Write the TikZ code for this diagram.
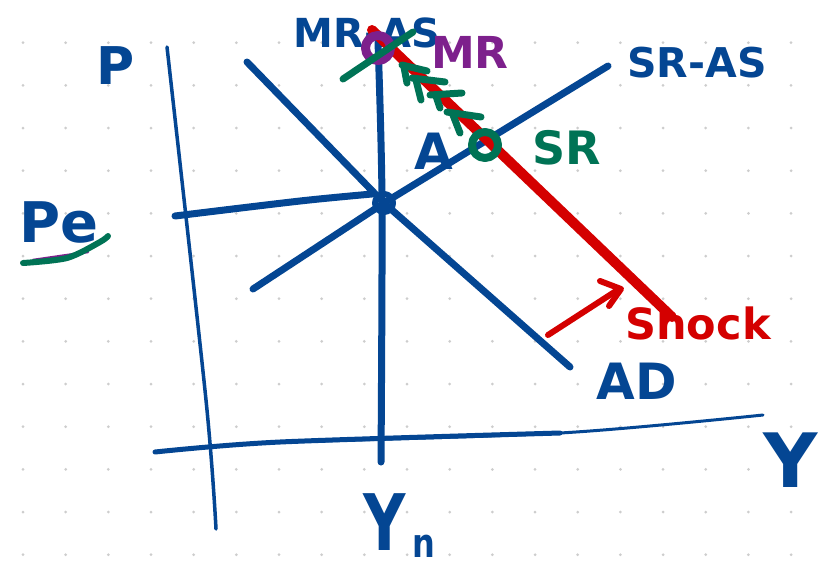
\documentclass[tikz,border=0pt]{standalone}
\usepackage{fontspec}
\setmainfont{DejaVu Sans}
\definecolor{inkblue}{RGB}{4,70,147}
\definecolor{inkred}{RGB}{212,0,0}
\definecolor{inkgreen}{RGB}{0,115,85}
\definecolor{inkpurple}{RGB}{125,32,140}
\definecolor{dotgray}{RGB}{205,205,205}
\tikzset{
  ink/.style={line cap=round,line join=round},
  blueline/.style={ink,draw=inkblue,line width=7pt},
  thinaxis/.style={ink,draw=inkblue,line width=3.5pt},
  redline/.style={ink,draw=inkred,line width=10pt},
  greenmark/.style={ink,draw=inkgreen,line width=7pt},
  lbl/.style={inner sep=0pt,font=\bfseries},
}
\newcommand{\fs}[1]{\fontsize{#1}{#1}\selectfont}
\begin{document}
\begin{tikzpicture}[x=1pt,y=-1pt]
\useasboundingbox (0,0) rectangle (818,568);
\fill[white] (0,0) rectangle (818,568);
% dot grid
\foreach \i in {0,...,18}{
  \foreach \j in {1,...,13}{
    \fill[dotgray] (23+42.67*\i,42.67*\j) circle (1.5);
  }
}
% coordinates
\coordinate (pTop) at (167,47);
\coordinate (pMid) at (206,400);
\coordinate (pBot) at (216,529);
\coordinate (yL) at (155,452);
\coordinate (yM1) at (280,442);
\coordinate (yM2) at (560,433);
\coordinate (yR) at (763,415);
\coordinate (E) at (384,203);
\coordinate (lrTop) at (378,42);
\coordinate (lrBot) at (381,462);
\coordinate (adTop) at (247,62);
\coordinate (adBot) at (570,367);
\coordinate (srL) at (253,289);
\coordinate (srR) at (608,66);
\coordinate (peL) at (175,216);
\coordinate (peM) at (300,201);
\coordinate (peR) at (372,194);
\coordinate (redTop) at (372,30);
\coordinate (redBot) at (672,317);
\coordinate (MRpt) at (378,48);
\coordinate (SRpt) at (485,145);
% axes
\draw[thinaxis] plot[smooth] coordinates {(pTop) (pMid) (pBot)};
\draw[ink,draw=inkblue,line width=5pt] plot[smooth] coordinates {(yL) (yM1) (yM2)};
\draw[ink,draw=inkblue,line width=3pt] plot[smooth] coordinates {(yM1) (yM2) (yR)};
% curves
\draw[blueline] plot[smooth] coordinates {(peL) (peM) (peR)};
\draw[blueline] (adTop) -- (E) -- (adBot);
\draw[blueline] (srL) -- (E) -- (srR);
\draw[blueline] plot[smooth] coordinates {(lrTop) (382,200) (lrBot)};
\draw[blueline,line width=6pt] (E) circle (9);
% label under the MR point
\node[lbl,text=inkblue,font=\bfseries\fs{40}] (tMRAS) at (367,33) {MR-AS};
% red shock line
\draw[redline] (redTop) -- (redBot);
% purple MR point and green line
\draw[ink,draw=inkpurple,line width=9pt] (MRpt) circle (12.5);
\draw[greenmark] (343,79) -- (413,32);
% green path marks
\draw[greenmark] (402,65) -- (427,71);
\draw[greenmark] (404,67) -- (407,83);
\draw[greenmark] (412,78) -- (445,82);
\draw[greenmark] (416,80) -- (421,100);
\draw[greenmark] (430,95) -- (462,93);
\draw[greenmark] (436,96) -- (440,108);
\draw[greenmark] (447,112) -- (481,117);
\draw[greenmark] (453,115) -- (460,133);
\draw[greenmark,line width=8pt] (SRpt) circle (13);
% red arrow
\coordinate (arS) at (548,335);
\coordinate (arE) at (616,291);
\draw[redline,line width=6pt] (arS) -- (arE);
\draw[redline,line width=6pt] (600,281) -- (621,289) -- (609,306);
% pe underline
\draw[ink,draw=inkpurple,line width=2.5pt] (33,260) -- (88,252);
\draw[ink,draw=inkgreen,line width=6pt] plot[smooth] coordinates {(23,263) (67,258) (100,242) (108,236)};
% labels
\node[lbl,text=inkpurple,font=\bfseries\fs{44}] (tMR) at (470,52) {MR};
\node[lbl,text=inkblue,font=\bfseries\fs{41}] (tSRAS) at (697,63) {SR-AS};
\node[lbl,text=inkgreen,font=\bfseries\fs{46}] (tSR) at (567,148) {SR};
\node[lbl,text=inkblue,font=\bfseries\fs{50}] (tA) at (434,151) {A};
\node[lbl,text=inkblue,font=\bfseries\fs{52}] (tP) at (116,66) {P};
\node[lbl,text=inkblue,font=\bfseries\fs{56}] (tPe) at (59,222) {Pe};
\node[lbl,text=inkred,font=\bfseries\fs{43}] (tShock) at (698,323) {Shock};
\node[lbl,text=inkblue,font=\bfseries\fs{50}] (tAD) at (637,381) {AD};
\node[lbl,text=inkblue,font=\bfseries\fs{75}] (tY) at (791,460) {Y};
\node[lbl,text=inkblue,font=\bfseries\fs{78},xscale=0.75] (tYn) at (385,522) {Y};
\node[lbl,text=inkblue,font=\bfseries\fs{40},xscale=0.8,anchor=base] (tn) at (424,557) {n};
\end{tikzpicture}
\end{document}
